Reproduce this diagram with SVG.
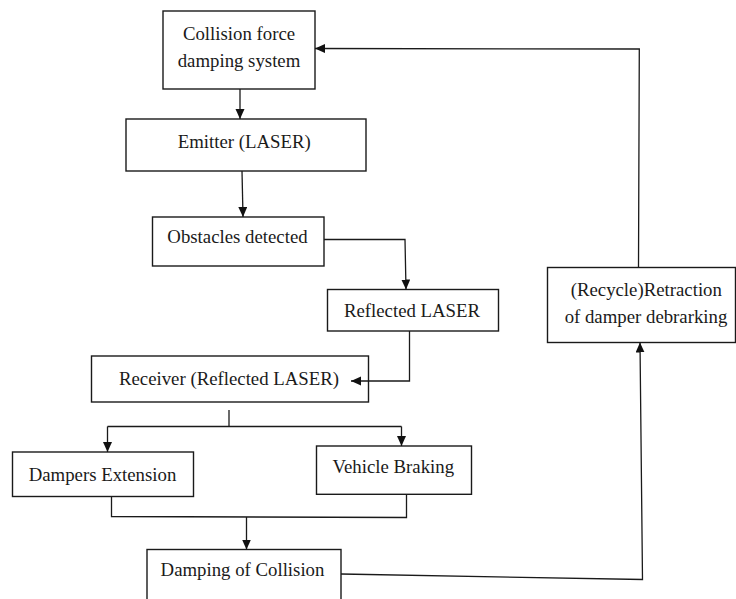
<svg xmlns="http://www.w3.org/2000/svg" width="736" height="599" viewBox="0 0 736 599">
<style>
.box{fill:#fff;stroke:#1a1a1a;stroke-width:1.4}
.t{font-family:"Liberation Serif","Times New Roman",serif;font-size:18.8px;fill:#1a1a1a;text-anchor:middle}
.c{fill:none;stroke:#1a1a1a;stroke-width:1.3}
</style>
<defs>
<marker id="ah" markerUnits="userSpaceOnUse" markerWidth="11" markerHeight="10" refX="10" refY="4.5" orient="auto">
<path d="M0,0 L10,4.5 L0,9 z" fill="#111"/>
</marker>
</defs>
<rect width="736" height="599" fill="#fff"/>
<g id="n1"><rect class="box" x="163" y="11" width="152" height="78"/><text class="t" x="239" y="39.5">Collision force</text><text class="t" x="239" y="66.5">damping system</text></g>
<g id="n2"><rect class="box" x="126" y="119" width="240" height="52"/><text class="t" x="244.3" y="147.7">Emitter (LASER)</text></g>
<g id="n3"><rect class="box" x="152.5" y="217" width="171.5" height="49"/><text class="t" x="237.5" y="242.7">Obstacles detected</text></g>
<g id="n4"><rect class="box" x="327.5" y="289.5" width="171" height="41.5"/><text class="t" x="412" y="317.3">Reflected LASER</text></g>
<g id="n5"><rect class="box" x="91.5" y="356" width="277" height="46"/><text class="t" x="229" y="385">Receiver (Reflected LASER)</text></g>
<g id="n6"><rect class="box" x="12.5" y="452" width="181" height="44.5"/><text class="t" x="102.5" y="480.7">Dampers Extension</text></g>
<g id="n7"><rect class="box" x="316.5" y="446" width="155" height="48.3"/><text class="t" x="393.3" y="473.3">Vehicle Braking</text></g>
<g id="n8"><rect class="box" x="147" y="549.5" width="194" height="60"/><text class="t" x="242.5" y="576">Damping of Collision</text></g>
<g id="n9"><rect class="box" x="547.5" y="267.5" width="188" height="75"/><text class="t" x="646.3" y="296">(Recycle)Retraction</text><text class="t" x="646" y="322.7">of damper debrarking</text></g>
<g id="connectors">
<path class="c" d="M240,89 L240,119" marker-end="url(#ah)"/>
<path class="c" d="M242,171 L243,217" marker-end="url(#ah)"/>
<path class="c" d="M324,239.5 L405,239.5 L406,289.5" marker-end="url(#ah)"/>
<path class="c" d="M409.5,331 L409.5,381 L351,381" marker-end="url(#ah)"/>
<path class="c" d="M229,410 L229,426.5"/>
<path class="c" d="M107.5,426.5 L401.5,426.5"/>
<path class="c" d="M107.5,426.5 L107.5,452" marker-end="url(#ah)"/>
<path class="c" d="M401.5,426.5 L401.5,446" marker-end="url(#ah)"/>
<path class="c" d="M111.5,496.5 L111.5,516.5 L406.5,517.5 L406.5,494.3"/>
<path class="c" d="M246.5,517 L246.5,549.5" marker-end="url(#ah)"/>
<path class="c" d="M341,574 L642.5,579.5 L640,342.5" marker-end="url(#ah)"/>
<path class="c" d="M638.5,267.5 L639.3,49 L315,48.5" marker-end="url(#ah)"/>
</g>
</svg>
